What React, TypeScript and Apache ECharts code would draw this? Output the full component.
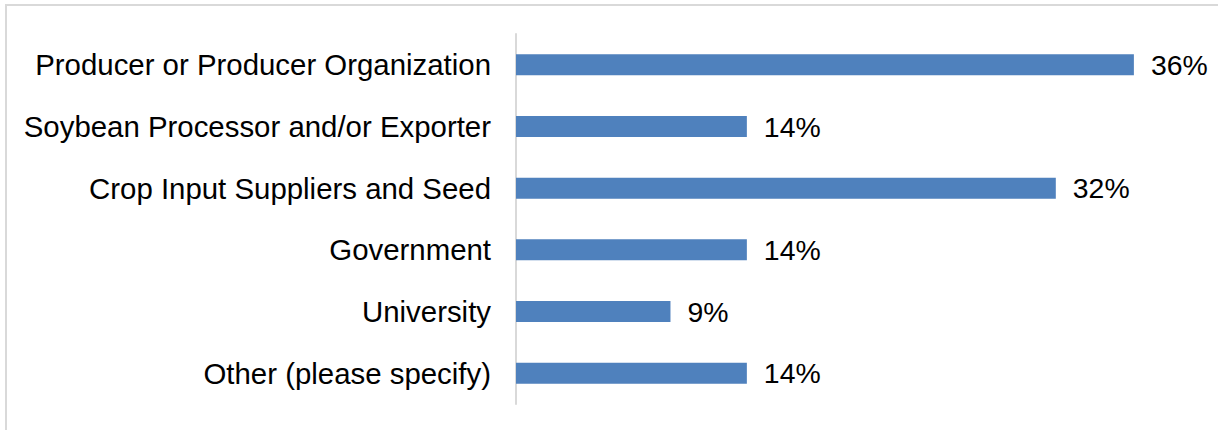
import React, { useEffect, useRef } from "react";
import * as echarts from "echarts";

const categories = [
  "Producer or Producer Organization",
  "Soybean Processor and/or Exporter",
  "Crop Input Suppliers and Seed",
  "Government",
  "University",
  "Other (please specify)",
];
const values = [36.4, 13.6, 31.8, 13.6, 9.1, 13.6];

const FONT = "'Liberation Sans', Arial, Helvetica, sans-serif";

export default function App() {
  const ref = useRef<HTMLDivElement>(null);
  useEffect(() => {
    document.body.style.margin = "0";
    const chart = echarts.init(ref.current!, null, { renderer: "svg" });
    chart.setOption({
      animation: false,
      backgroundColor: "#ffffff",
      graphic: [
        {
          type: "rect",
          shape: { x: 6, y: 5, width: 1240, height: 500 },
          style: { fill: "none", stroke: "#d9d9d9", lineWidth: 2 },
          silent: true,
        },
      ],
      grid: { left: 516, right: 23, top: 34, bottom: 26 },
      xAxis: {
        type: "value",
        min: 0,
        max: 40,
        show: false,
      },
      yAxis: {
        type: "category",
        inverse: true,
        data: categories,
        axisLine: { show: true, lineStyle: { color: "#d9d9d9", width: 2 } },
        axisTick: { show: false },
        splitLine: { show: false },
        axisLabel: {
          margin: 25,
          color: "#000000",
          fontSize: 29.4,
          fontFamily: FONT,
        },
      },
      series: [
        {
          type: "bar",
          data: values,
          barWidth: 21,
          itemStyle: { color: "#4f81bd" },
          label: {
            show: true,
            position: "right",
            distance: 17,
            color: "#000000",
            fontSize: 28.4,
            fontFamily: FONT,
            formatter: (p: any) => Math.round(p.value) + "%",
          },
        },
      ],
    });
    return () => chart.dispose();
  }, []);
  return (
    <div
      ref={ref}
      style={{ position: "absolute", left: 0, top: 0, width: 1218, height: 430 }}
    />
  );
}
